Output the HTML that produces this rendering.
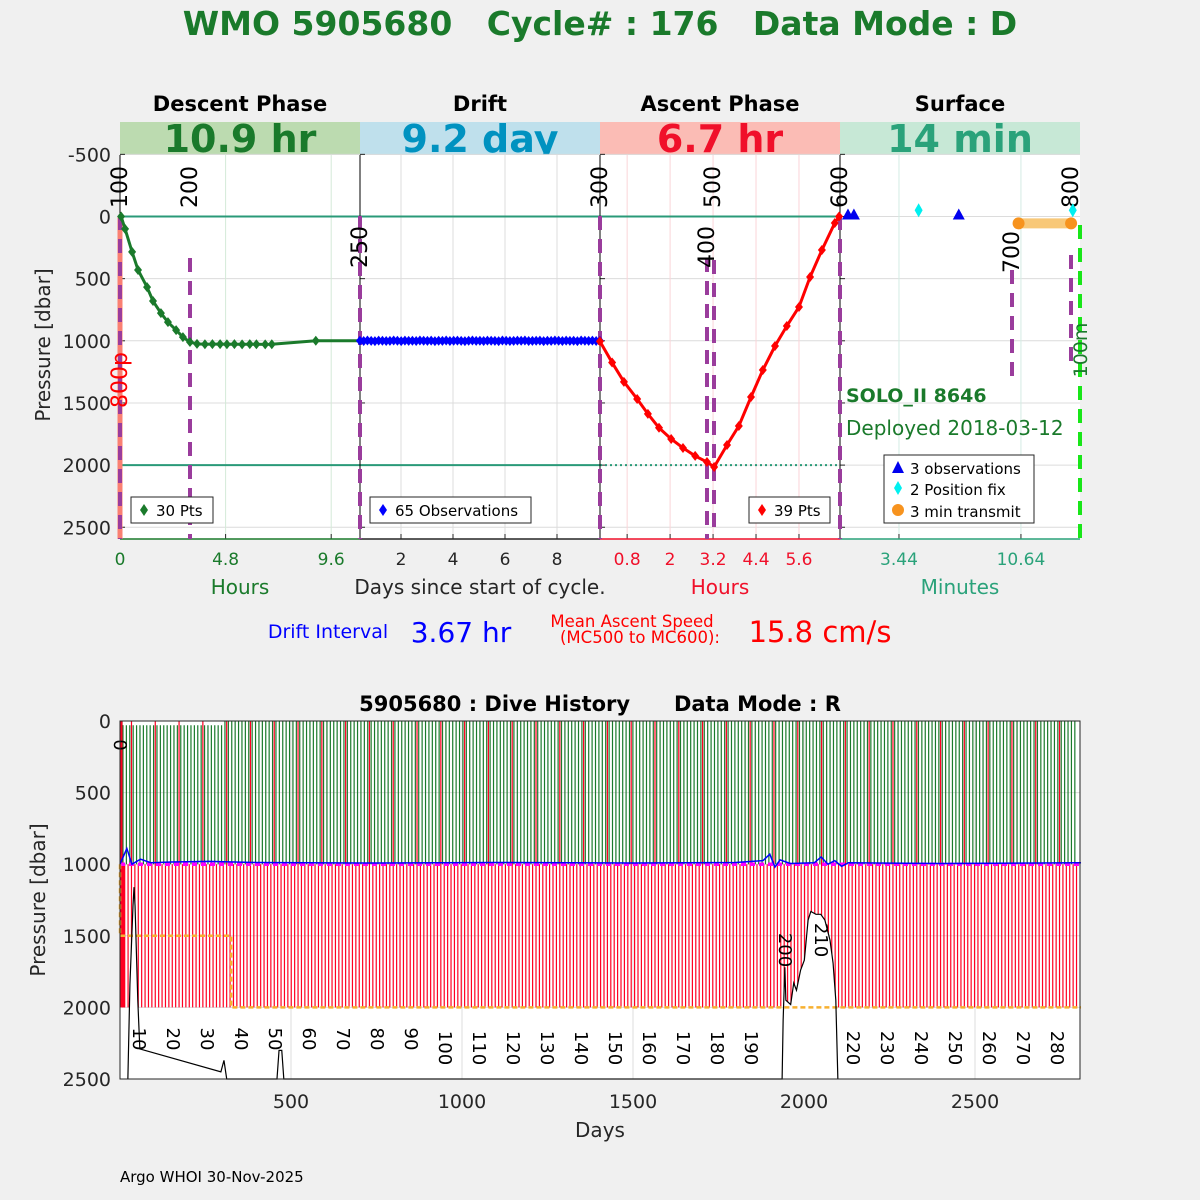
<!DOCTYPE html>
<html><head><meta charset="utf-8"><style>
html,body{margin:0;padding:0;background:#f0f0f0;}
svg{display:block;font-family:"DejaVu Sans","Liberation Sans",sans-serif;}
</style></head><body>
<svg id="s" width="1200" height="1200" viewBox="0 0 1200 1200" xmlns="http://www.w3.org/2000/svg">
<rect x="0" y="0" width="1200" height="1200" fill="#f0f0f0"/>
<text x="600" y="35" text-anchor="middle" font-size="33" font-weight="bold" fill="#1a7a2b" style="white-space:pre">WMO 5905680   Cycle# : 176   Data Mode : D</text>
<g id="topg"></g>
<g id="botg"></g>
<text x="120" y="1182" font-size="15" fill="#000">Argo WHOI 30-Nov-2025</text>
</svg>
<script>
// ---------- top chart data ----------
const descentHours=[0.05,0.23,0.55,0.82,1.23,1.5,1.86,2.18,2.55,2.86,3.18,3.5,3.86,4.2,4.55,4.86,5.2,5.55,5.9,6.2,6.6,6.9,8.9,10.9];
const descentP=[0,100,285,430,568,680,777,850,914,970,1010,1025,1028,1027,1027,1028,1027,1029,1027,1028,1029,1028,1000,1000];
const driftP=[1000,1002,998,1001,1003,999,1000,1002,1001,998,1000,1003,999,1001,1000,1002,998,1000,1001,999,1003,1000,1001,998,1002,1000,999,1001,1003,1000,998,1001,1000,1002,999,1000,1001,1003,998,1000,1002,1001,999,1000,998,1002,1001,1000,999,1003,1000,1001,998,1000,1002,999,1001,1000,1003,998,1000,1001,999,1002,1000];
const ascentHours=[0.04,0.38,0.71,1.08,1.38,1.69,2.03,2.36,2.7,3.03,3.23,3.59,3.92,4.26,4.59,4.93,5.26,5.6,5.91,6.24,6.6,6.72];
const ascentP=[1005,1175,1330,1468,1588,1700,1790,1862,1926,1975,2015,1838,1685,1452,1235,1042,881,728,487,270,52,0];
const obsMin=[0.43,0.78,6.97], obsP=[0,0,0];
const fixMin=[4.6,13.7], fixP=[-50,-50];
const txMin=[10.5,13.6], txP=[55,55];
const pTicks=[-500,0,500,1000,1500,2000,2500];
const descTicks=[0,4.8,9.6], driftTicks=[2,4,6,8], ascTicks=[0.8,2,3.2,4.4,5.6], surfTicks=[3.44,10.64];
// ---------- bottom chart data ----------
const cycleLabels=[10,20,30,40,50,60,70,80,90,100,110,120,130,140,150,160,170,180,190,220,230,240,250,260,270,280];
const dayTicks=[500,1000,1500,2000,2500];
const bPTicks=[0,500,1000,1500,2000,2500];
const parkDays=[0,325,325,2810], parkP=[1500,1500,2000,2000];
const bathyDays=[23,29,38,41,44,52,58,295,304,312,459,465,473,479,1936,1939,1944,1947,1961,1970,1978,1990,2001,2012,2020,2035,2049,2061,2076,2085,2093,2099];
const bathyP=[2500,1840,1290,1160,1290,1950,2290,2450,2370,2500,2500,2300,2300,2500,2500,2090,1720,1950,1980,1830,1880,1740,1670,1390,1330,1350,1350,1390,1530,1690,1950,2500];
const driftWiggleDays=[0,20,35,60,90,150,260,400,700,1100,1500,1800,1880,1900,1915,1930,1960,2030,2050,2070,2090,2110,2130,2400,2810];
const driftWiggleP=[1000,890,1000,965,990,985,980,988,992,988,992,988,975,930,1020,970,995,990,950,1000,975,1015,990,995,990];

const NS="http://www.w3.org/2000/svg";
function mk(parent,tag,attrs,text){const e=document.createElementNS(NS,tag);for(const k in attrs)e.setAttribute(k,attrs[k]);if(text!==undefined)e.textContent=text;parent.appendChild(e);return e;}
const topG=document.getElementById('topg'), botG=document.getElementById('botg');

const Y=p=>216.5+p*0.1243;
const XD=h=>120+22*h, XR=d=>349+26*d, XA=h=>598.5+35.8*h, XS=m=>840.7+16.94*m;

const bands=[[120,'#bcdbb0','10.9 hr','#1a7a2b','Descent Phase'],[360,'#bfe0ec','9.2 day','#0092c0','Drift'],[600,'#fbbcb5','6.7 hr','#f0102a','Ascent Phase'],[840,'#c7e8d6','14 min','#2aa27a','Surface']];
bands.forEach((b,i)=>{
  let r=mk(topG,'rect',{x:b[0],y:122,width:240,height:33,fill:b[1]});
  
  
  let t=mk(topG,'text',{x:b[0]+120,y:152,'text-anchor':'middle','font-size':38,'font-weight':'bold',fill:b[3]},b[2]);
  
  
  let h=mk(topG,'text',{x:b[0]+120,y:111,'text-anchor':'middle','font-size':21,'font-weight':'bold',fill:'#000'},b[4]);
  
  
});
let pa=mk(topG,'rect',{x:120,y:155,width:960,height:384,fill:'#fff'});


pTicks.forEach(p=>{
  let g=mk(topG,'line',{x1:120,x2:1080,y1:Y(p),y2:Y(p),stroke:'#dcdcdc','stroke-width':1});
  
  
  let t=mk(topG,'text',{x:111,y:Y(p)+7,'text-anchor':'end','font-size':19,fill:'#262626'},String(p));
  
  
  [120,360,600,840].forEach(x=>{mk(topG,'line',{x1:x,x2:x+5,y1:Y(p),y2:Y(p),stroke:'#262626'});});
});
function vgrid(ticks,sx,col,lab){ticks.forEach(v=>{
  if(v>0){let g=mk(topG,'line',{x1:sx(v),x2:sx(v),y1:155,y2:539,stroke:col,'stroke-width':1});
  
  
  mk(topG,'line',{x1:sx(v),x2:sx(v),y1:534,y2:539,stroke:'#262626'});}
  let t=mk(topG,'text',{x:sx(v),y:565,'text-anchor':'middle','font-size':17,fill:lab},String(v));
  
  
});}
vgrid(descTicks,XD,'#d4ead8','#1a7a2b');
vgrid(driftTicks,XR,'#dcdcdc','#262626');
vgrid(ascTicks,XA,'#fbd4d8','#f0102a');
vgrid(surfTicks,XS,'#d4ece4','#2aa27a');
mk(topG,'line',{x1:120,x2:840,y1:Y(0),y2:Y(0),stroke:'#2a9a78','stroke-width':2});
mk(topG,'line',{x1:120,x2:600,y1:Y(2000),y2:Y(2000),stroke:'#2a9a78','stroke-width':2});
mk(topG,'line',{x1:600,x2:840,y1:Y(2000),y2:Y(2000),stroke:'#2a9a78','stroke-width':2,'stroke-dasharray':'2,3'});
[360,600,840].forEach(x=>mk(topG,'line',{x1:x,x2:x,y1:155,y2:539,stroke:'#000','stroke-width':1}));
mk(topG,'line',{x1:120,x2:120,y1:155,y2:539,stroke:'#000'});
mk(topG,'line',{x1:120,x2:360,y1:539,y2:539,stroke:'#1a7a2b','stroke-width':1.5});
mk(topG,'line',{x1:360,x2:600,y1:539,y2:539,stroke:'#262626','stroke-width':1.5});
mk(topG,'line',{x1:600,x2:840,y1:539,y2:539,stroke:'#f0102a','stroke-width':1.5});
mk(topG,'line',{x1:840,x2:1080,y1:539,y2:539,stroke:'#2aa27a','stroke-width':1.5});
mk(topG,'line',{x1:120,x2:120,y1:216,y2:539,stroke:'#fa8072','stroke-width':5});
const dashes=[[120,216,539],[190,258,539],[360,216,539],[600,216,539],[707,258,539],[714,260,530],[840,216,539],[1012,270,378],[1071,255,365]];
dashes.forEach(d=>{let l=mk(topG,'line',{x1:d[0],x2:d[0],y1:d[1],y2:d[2],stroke:'#9a3c9c','stroke-width':4,'stroke-dasharray':'14,9'});
  
  });
mk(topG,'line',{x1:1080,x2:1080,y1:225,y2:539,stroke:'#19e619','stroke-width':4,'stroke-dasharray':'14,9'});
function rot(g,x,y,s,col,fs,ang,name){let t=mk(g,'text',{x:x,y:y,transform:`rotate(${ang} ${x} ${y})`,'font-size':fs,fill:col,'text-anchor':'middle'},s);
  
  return t;}
rot(topG,127,187,'100','#000',22,-90,'marker-label');
rot(topG,197,187,'200','#000',22,-90,'marker-label');
rot(topG,367,247,'250','#000',22,-90,'marker-label');
rot(topG,607,187,'300','#000',22,-90,'marker-label');
rot(topG,720,187,'500','#000',22,-90,'marker-label');
rot(topG,714,247,'400','#000',22,-90,'marker-label');
rot(topG,847,187,'600','#000',22,-90,'marker-label');
rot(topG,1019,252,'700','#000',22,-90,'marker-label');
rot(topG,1078,187,'800','#000',22,-90,'marker-label');
rot(topG,127,380,'800p','#f00',22,-90,'parking-label');
rot(topG,1087,350,'100m','#1a7a2b',19,-90,'surface-depth-label');
function series(xs,ps,sx,col,name,mark){
  let pts=xs.map((v,i)=>sx(v)+','+Y(ps[i])).join(' ');
  let l=mk(topG,'polyline',{points:pts,fill:'none',stroke:col,'stroke-width':3});
  
  
  xs.forEach((v,i)=>{if(mark&&mark(i))return;let x=sx(v),y=Y(ps[i]);
    let m=mk(topG,'path',{d:`M${x} ${y-5}L${x+4} ${y}L${x} ${y+5}L${x-4} ${y}Z`,fill:col});
    
    });
}
series(descentHours,descentP,XD,'#1a7a2b','descent',i=>i==descentHours.length-1);
const driftDays=driftP.map((p,i)=>0.42+i*(9.65-0.42)/(driftP.length-1));
series(driftDays,driftP,XR,'#0000ff','drift');
series(ascentHours,ascentP,XA,'#ff0000','ascent');
let tl=mk(topG,'line',{x1:XS(txMin[0]),x2:XS(txMin[1]),y1:Y(txP[0]),y2:Y(txP[1]),stroke:'#f8c878','stroke-width':10});


txMin.forEach((m,i)=>{let c=mk(topG,'circle',{cx:XS(m),cy:Y(txP[i]),r:6,fill:'#f7931e'});
  
  });
obsMin.forEach((m,i)=>{let x=XS(m),y=Y(obsP[i]);let t=mk(topG,'path',{d:`M${x-6} ${y+3}L${x+6} ${y+3}L${x} ${y-8}Z`,fill:'#0000ee'});
  
  });
fixMin.forEach((m,i)=>{let x=XS(m),y=Y(fixP[i]);let t=mk(topG,'path',{d:`M${x} ${y-7}L${x+4} ${y}L${x} ${y+7}L${x-4} ${y}Z`,fill:'#00f0f0'});
  
  });
function legbox(x,y,w,h,name){let r=mk(topG,'rect',{x:x,y:y,width:w,height:h,fill:'#fff',stroke:'#262626','stroke-width':1});
  
  }
legbox(131,497,82,26,'descent-legend');
mk(topG,'path',{d:'M144 504L148 510L144 516L140 510Z',fill:'#1a7a2b'});
mk(topG,'text',{x:156,y:516,'font-size':15,fill:'#000'},'30 Pts');
legbox(370,497,161,26,'drift-legend');
mk(topG,'path',{d:'M383 504L387 510L383 516L379 510Z',fill:'#0000ff'});
mk(topG,'text',{x:395,y:516,'font-size':15,fill:'#000'},'65 Observations');
legbox(749,497,81,26,'ascent-legend');
mk(topG,'path',{d:'M762 504L766 510L762 516L758 510Z',fill:'#ff0000'});
mk(topG,'text',{x:774,y:516,'font-size':15,fill:'#000'},'39 Pts');
legbox(884,455,150,68,'surface-legend');
mk(topG,'path',{d:'M892 473L904 473L898 461Z',fill:'#0000ee'});
mk(topG,'text',{x:910,y:474,'font-size':15,fill:'#000'},'3 observations');
mk(topG,'path',{d:'M898 481L902 488L898 495L894 488Z',fill:'#00f0f0'});
mk(topG,'text',{x:910,y:495,'font-size':15,fill:'#000'},'2 Position fix');
mk(topG,'circle',{cx:898,cy:510,r:6,fill:'#f7931e'});
mk(topG,'text',{x:910,y:517,'font-size':15,fill:'#000'},'3 min transmit');
let f1=mk(topG,'text',{x:846,y:402,'font-size':19,'font-weight':'bold',fill:'#1a7a2b'},'SOLO_II 8646');


let f2=mk(topG,'text',{x:846,y:435,'font-size':20,fill:'#1a7a2b'},'Deployed 2018-03-12');


rot(topG,50,345,'Pressure [dbar]','#262626',20,-90,'y-axis-title');
[[240,'Hours','#1a7a2b'],[480,'Days since start of cycle.','#262626'],[720,'Hours','#f0102a'],[960,'Minutes','#2aa27a']].forEach(a=>{
  let t=mk(topG,'text',{x:a[0],y:594,'text-anchor':'middle','font-size':20,fill:a[2]},a[1]);
  
  });
mk(topG,'text',{x:328,y:638,'text-anchor':'middle','font-size':19,fill:'#0000ff'},'Drift Interval');
mk(topG,'text',{x:461,y:642,'text-anchor':'middle','font-size':28,fill:'#0000ff'},'3.67 hr');
mk(topG,'text',{x:632,y:627,'text-anchor':'middle','font-size':16.5,fill:'#ff0000'},'Mean Ascent Speed');
mk(topG,'text',{x:640,y:643,'text-anchor':'middle','font-size':16.5,fill:'#ff0000'},'(MC500 to MC600):');
mk(topG,'text',{x:820,y:642,'text-anchor':'middle','font-size':29,fill:'#ff0000'},'15.8 cm/s');

// ---------- bottom chart ----------
const BX=d=>120+0.342*d, BY=p=>721+0.1432*p;
let ba=mk(botG,'rect',{x:120,y:721,width:960,height:358,fill:'#fff'});


bPTicks.forEach(p=>{mk(botG,'line',{x1:120,x2:1080,y1:BY(p),y2:BY(p),stroke:'#dcdcdc'});
  let t=mk(botG,'text',{x:111,y:BY(p)+7,'text-anchor':'end','font-size':19,fill:'#262626'},String(p));
  
  });
dayTicks.forEach(d=>{mk(botG,'line',{x1:BX(d),x2:BX(d),y1:721,y2:1079,stroke:'#dcdcdc'});
  let t=mk(botG,'text',{x:BX(d),y:1108,'text-anchor':'middle','font-size':19,fill:'#262626'},String(d));
  
  });
const nCycles=285;
let sg=mk(botG,'g',{});


for(let n=1;n<=nCycles;n++){
  const d=n<5?n*2:9.94*n-41;
  const x=BX(d);
  if(x>1078)continue;
  const topP=(n<35&&n>3)?30:0;
  mk(sg,'line',{x1:x,x2:x,y1:BY(topP),y2:BY(1000),stroke:'#1a7a2b','stroke-width':1.2});
  const full=(n%7===0);
  mk(sg,'line',{x1:x+1.7,x2:x+1.7,y1:BY(full?0:1000),y2:BY(2000),stroke:'#ff0022','stroke-width':1.2});
}
mk(botG,'line',{x1:121,x2:121,y1:721,y2:BY(2000),stroke:'#ff0022','stroke-width':3});
let pts=bathyDays.map((d,i)=>BX(d)+','+BY(bathyP[i])).join(' ');
mk(botG,'polygon',{points:BX(1936)+','+BY(2500)+' '+bathyDays.slice(14).map((d,i)=>BX(d)+','+BY(bathyP[i+14])).join(' '),fill:'#fff'});
mk(botG,'polygon',{points:BX(23)+','+BY(2500)+' '+bathyDays.slice(0,7).map((d,i)=>BX(d)+','+BY(bathyP[i])).join(' '),fill:'#fff'});
let pk=mk(botG,'line',{x1:120,x2:1080,y1:BY(1000),y2:BY(1000),stroke:'#ff00ff','stroke-width':3.5,'stroke-dasharray':'5,4'});


let dw=mk(botG,'polyline',{points:driftWiggleDays.map((d,i)=>BX(d)+','+BY(driftWiggleP[i])).join(' '),fill:'none',stroke:'#0000ff','stroke-width':1.5});


let pp=mk(botG,'polyline',{points:parkDays.map((d,i)=>BX(d)+','+BY(parkP[i])).join(' '),fill:'none',stroke:'#f7b030','stroke-width':2.5,'stroke-dasharray':'5,3'});


mk(botG,'line',{x1:120,x2:120,y1:BY(1000),y2:BY(1500),stroke:'#f7b030','stroke-width':2.5,'stroke-dasharray':'5,3'});
let bl=mk(botG,'polyline',{points:pts,fill:'none',stroke:'#000','stroke-width':1.2});


cycleLabels.forEach(c=>{const d=9.94*c-41;const len=String(c).length;
  rot(botG,BX(d)-7,1021+len*9,String(c),'#000',18,90,'cycle-label');});
rot(botG,BX(9.94*200-41)-7,950,'200','#000',18,90,'cycle-label');
rot(botG,BX(9.94*210-41)-5,940,'210','#000',18,90,'cycle-label');
rot(botG,114,745,'0','#000',18,90,'cycle-label');
mk(botG,'rect',{x:120,y:721,width:960,height:358,fill:'none',stroke:'#262626','stroke-width':1});
let bt=mk(botG,'text',{x:600,y:711,'text-anchor':'middle','font-size':21,'font-weight':'bold',fill:'#000',style:'white-space:pre'},'5905680 : Dive History      Data Mode : R');


let bx=mk(botG,'text',{x:600,y:1137,'text-anchor':'middle','font-size':20,fill:'#262626'},'Days');


rot(botG,45,900,'Pressure [dbar]','#262626',20,-90,'y-axis-title');
</script>
</body></html>
